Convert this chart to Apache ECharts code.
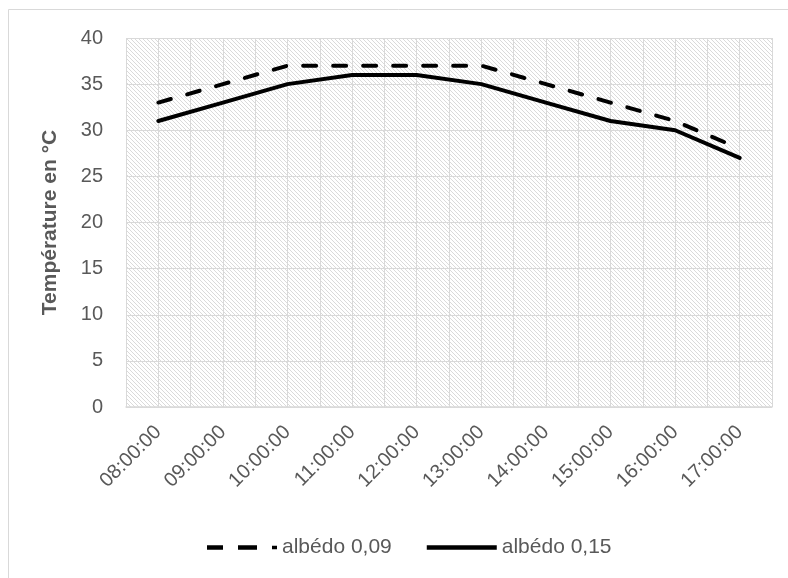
<!DOCTYPE html>
<html>
<head>
<meta charset="utf-8">
<script src="https://cdn.jsdelivr.net/npm/echarts@6/dist/echarts.min.js"></script>
<style>
html,body{margin:0;padding:0;background:#fff;}
#chart{width:788px;height:578px;}
</style>
</head>
<body>
<div id="chart"></div>
<script>
const categories = ['08:00:00','09:00:00','10:00:00','11:00:00','12:00:00','13:00:00','14:00:00','15:00:00','16:00:00','17:00:00'];
const albedo009 = [33, 35, 37, 37, 37, 37, 35, 33, 31, 28];
const albedo015 = [31, 33, 35, 36, 36, 35, 33, 31, 30, 27];
const seriesNames = ['albédo 0,09', 'albédo 0,15'];
const yTitle = 'Température en °C';

const FONT = 'Liberation Sans';
const TXT = '#595959';
const GRID = '#d9d9d9';

// hatch pattern
const pc = document.createElement('canvas');
pc.width = 4; pc.height = 4;
const pctx = pc.getContext('2d');
pctx.fillStyle = '#ffffff';
pctx.fillRect(0,0,4,4);
for (let y = 0; y < 4; y++) {
  for (let x = 0; x < 4; x++) {
    const d = ((x - y) % 4 + 4) % 4;
    if (d === 0) { pctx.fillStyle = '#dadada'; pctx.fillRect(x,y,1,1); }
  }
}

const dashIcon = 'path://M0,0h16v4.5h-16z M31,0h19v4.5h-19z M65,0.5h5v3.5h-5z';
const solidIcon = 'path://M0,0h71v4.5h-71z';

const chart = echarts.init(document.getElementById('chart'), null, {renderer:'canvas'});
chart.setOption({
  animation: false,
  backgroundColor: '#ffffff',
  graphic: [{
    type: 'rect', silent: true, z: -10,
    shape: {x: 8.5, y: 9.5, width: 900, height: 700},
    style: {fill: 'none', stroke: '#d9d9d9', lineWidth: 1}
  }],
  grid: {
    left: 126, right: 16, top: 38, bottom: 171,
    show: true, backgroundColor: {image: pc, repeat: 'repeat'}, borderWidth: 0
  },
  legend: {
    left: 202, top: 532,
    itemWidth: 70, itemHeight: 4.5, itemGap: 35, itemTextGap: 6,
    textStyle: {fontFamily: FONT, fontSize: 21, color: TXT},
    data: [{name: seriesNames[0], icon: dashIcon}, {name: seriesNames[1], icon: solidIcon}]
  },
  xAxis: [{
    type: 'category',
    data: categories,
    boundaryGap: true,
    axisLine: {show: true, lineStyle: {color: GRID, width: 1.5}},
    axisTick: {show: false},
    splitLine: {show: false},
    axisLabel: {rotate: 45, margin: 22, fontFamily: FONT, fontSize: 20, color: TXT}
  }, {
    type: 'value', min: 0, max: 20, interval: 1, position: 'bottom',
    axisLine: {show: false}, axisTick: {show: false}, axisLabel: {show: false},
    splitLine: {show: true, lineStyle: {color: GRID, width: 1}}
  }],
  yAxis: {
    type: 'value', min: 0, max: 40, interval: 5,
    name: yTitle, nameLocation: 'middle', nameGap: 65,
    nameTextStyle: {fontFamily: FONT, fontSize: 21, fontWeight: 'bold', color: TXT},
    axisLine: {show: false}, axisTick: {show: false},
    axisLabel: {margin: 23, fontFamily: FONT, fontSize: 20, color: TXT},
    splitLine: {show: true, lineStyle: {color: GRID, width: 1}}
  },
  series: [{
    name: seriesNames[0], type: 'line', data: albedo009, xAxisIndex: 0,
    symbol: 'none', z: 5,
    lineStyle: {color: '#000', width: 4, type: [13, 17], cap: 'round', join: 'round'},
    itemStyle: {color: '#000'}
  }, {
    name: seriesNames[1], type: 'line', data: albedo015, xAxisIndex: 0,
    symbol: 'none', z: 5,
    lineStyle: {color: '#000', width: 4, cap: 'round', join: 'round'},
    itemStyle: {color: '#000'}
  }]
});
</script>
</body>
</html>
